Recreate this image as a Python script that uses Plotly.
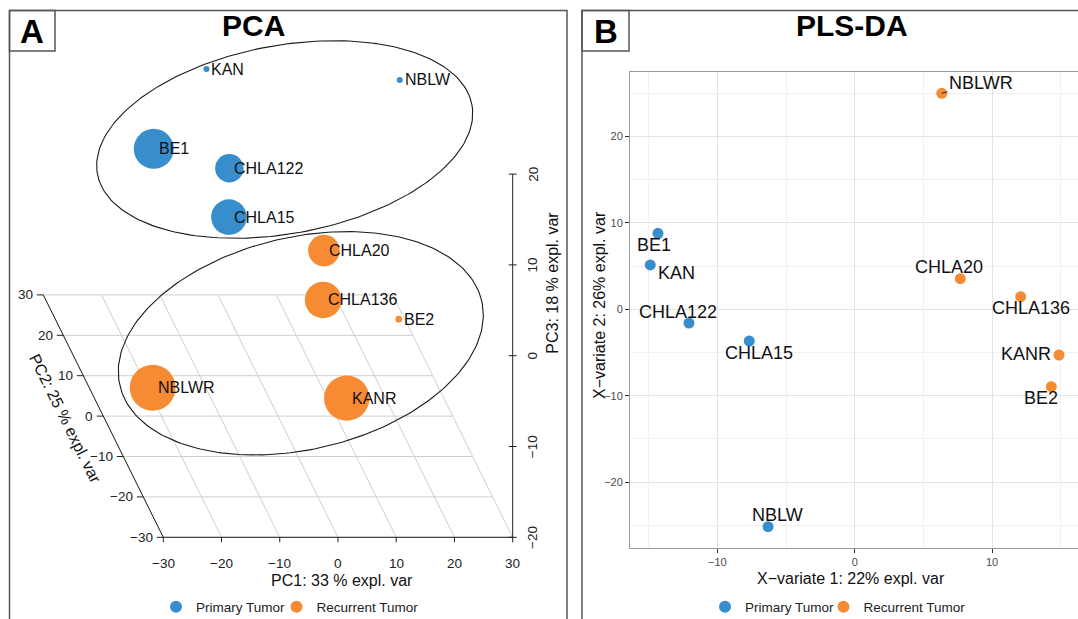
import numpy as np
import plotly.graph_objects as go

W, H = 1078, 619
FONT = "Liberation Sans, Arial, Helvetica, sans-serif"
BLUE, ORANGE = "#388ECC", "#F68B33"

# ---------------- data ----------------
samples = ["KAN", "NBLW", "BE1", "CHLA122", "CHLA15",
           "CHLA20", "CHLA136", "BE2", "NBLWR", "KANR"]
groups = ["Primary Tumor"] * 5 + ["Recurrent Tumor"] * 5
group_names = ["Primary Tumor", "Recurrent Tumor"]

# PCA scores (3 components)
pc1 = [-3.7, 29.5, -28.1, -9.9, -13.2, 4.9, 2.5, 29.0, -31.0, 2.6]
pc2 = [25.0, 25.0, -19.7, -4.5, -13.9, -8.7, -15.3, 24.0, -27.6, -26.8]
pc3 = [7.1, 5.9, 18.2, 9.3, 8.1, 2.1, -0.4, -20.0, -4.6, -6.1]

# PLS-DA variates
pls_x = [-14.89, -6.31, -14.33, -12.07, -7.68, 7.69, 12.09, 14.32, 6.34, 14.88]
pls_y = [5.13, -25.16, 8.80, -1.59, -3.67, 3.54, 1.46, -8.96, 25.0, -5.29]

pca_ticks_12 = [-30, -20, -10, 0, 10, 20, 30]
pca_ticks_3 = [-20, -10, 0, 10, 20]
pls_xticks = [-10, 0, 10]
pls_yticks = [-20, -10, 0, 10, 20]
pls_xminor = [-15, -5, 5, 15]
pls_yminor = [-25, -15, -5, 5, 15, 25]

pca_titles = ["PC1: 33 % expl. var", "PC2: 25 % expl. var", "PC3: 18 % expl. var"]
pls_titles = ["X\u2212variate 1: 22% expl. var", "X\u2212variate 2: 26% expl. var"]
colors = {"Primary Tumor": BLUE, "Recurrent Tumor": ORANGE}

# ---------------- styles / geometry ----------------
# oblique projection of the PCA box onto the page (pixel space of overlay axis)
P_ORIGIN = (163.3, 537.3)
P_SX, P_SZ = 5.823, 9.08
P_DEPTH = (-2.0, -4.04)
A1, A2, A3 = pca_ticks_12[0], pca_ticks_12[0], pca_ticks_3[0]
B1, B2, B3 = pca_ticks_12[-1], pca_ticks_12[-1], pca_ticks_3[-1]


def proj(a, b, c):
    a, b, c = (np.asarray(v, float) for v in (a, b, c))
    x = P_ORIGIN[0] + (a - A1) * P_SX + (b - A2) * P_DEPTH[0]
    y = P_ORIGIN[1] + (b - A2) * P_DEPTH[1] - (c - A3) * P_SZ
    return x, y


def depth_size(b):
    return 2 * (12.5 - 0.38 * np.asarray(b, float))


# confidence ellipses in projected page space: cx, cy, a, b, angle(deg)
ellipses = [(284.7, 139.5, 190.4, 94.1, 10.45), (300.8, 343.3, 185.8, 106.1, 13.2)]

# PLS-DA label offsets (pixels)
label_off_B = {"NBLWR": (39, -10.6), "BE1": (-4.3, 11.7), "KAN": (26, 8.3),
               "CHLA20": (-11.1, -11.4), "CHLA136": (10.5, 11.6),
               "CHLA122": (-11.2, -11.3), "CHLA15": (10.2, 11.7),
               "KANR": (-32.7, -0.7), "BE2": (-10.8, 11.6), "NBLW": (9.8, -11.7)}
segment_labels = {"NBLWR"}

# legend symbol centres (page px) per panel / group
legend_pos = {("A", "Primary Tumor"): 176, ("A", "Recurrent Tumor"): 296.5,
              ("B", "Primary Tumor"): 725, ("B", "Recurrent Tumor"): 843.5}
legend_ids = {("A", "Primary Tumor"): "legend", ("A", "Recurrent Tumor"): "legend2",
              ("B", "Primary Tumor"): "legend3", ("B", "Recurrent Tumor"): "legend4"}

fig = go.Figure()
ann = []
shapes = []

# ---------------- Panel A (PCA) ----------------
def add_lines(segs, color, width):
    xs, ys = [], []
    for (x0, y0), (x1, y1) in segs:
        xs += [float(x0), float(x1), None]
        ys += [float(y0), float(y1), None]
    fig.add_trace(go.Scatter(x=xs, y=ys, mode="lines", xaxis="x3", yaxis="y3",
                             line=dict(color=color, width=width),
                             hoverinfo="skip", showlegend=False))

grid = []
for b in pca_ticks_12:
    grid.append((proj(A1, b, A3), proj(B1, b, A3)))
for a in pca_ticks_12:
    grid.append((proj(a, A2, A3), proj(a, B2, A3)))
add_lines(grid, "#cfcfcf", 1)

axes = [(proj(A1, A2, A3), proj(B1, A2, A3)),
        (proj(A1, A2, A3), proj(A1, B2, A3)),
        (proj(B1, A2, A3), proj(B1, A2, B3))]
for a in pca_ticks_12:
    x, y = proj(a, A2, A3)
    axes.append(((x, y), (x, y + 5)))
for b in pca_ticks_12:
    x, y = proj(A1, b, A3)
    axes.append(((x - 6.5, y), (x, y)))
for c in pca_ticks_3:
    x, y = proj(B1, A2, c)
    axes.append(((x - 4, y), (x + 4, y)))
add_lines(axes, "#222222", 1)

tickfont = dict(family=FONT, size=13.5, color="#222")
for a in pca_ticks_12:
    x, y = proj(a, A2, A3)
    ann.append(dict(x=float(x), y=float(y) + 26, xref="x3", yref="y3", text=str(a).replace("-", "\u2212"),
                    showarrow=False, font=tickfont))
for b in pca_ticks_12:
    x, y = proj(A1, b, A3)
    ann.append(dict(x=float(x) - 8, y=float(y), xref="x3", yref="y3", text=str(b).replace("-", "\u2212"),
                    showarrow=False, xanchor="right", font=tickfont))
for c in pca_ticks_3:
    x, y = proj(B1, A2, c)
    ann.append(dict(x=float(x) + 20, y=float(y), xref="x3", yref="y3", text=str(c).replace("-", "\u2212"),
                    showarrow=False, textangle=-90, font=tickfont))

titlefont = dict(family=FONT, size=16, color="#111")
ann.append(dict(x=342.3, y=580, xref="x3", yref="y3", text=pca_titles[0], showarrow=False, font=titlefont))
ax0, ay0 = proj(A1, A2, A3)
ax1, ay1 = proj(A1, B2, A3)
ang = float(np.degrees(np.arctan2(ay0 - ay1, ax0 - ax1)))
ann.append(dict(x=65.5, y=418, xref="x3", yref="y3", text=pca_titles[1], showarrow=False,
                textangle=ang, font=titlefont))
ann.append(dict(x=551.7, y=283, xref="x3", yref="y3", text=pca_titles[2], showarrow=False,
                textangle=-90, font=titlefont))

t = np.linspace(0, 2 * np.pi, 240)
for cx, cy, ea, eb, th in ellipses:
    r = np.radians(th)
    ex = cx + ea * np.cos(t) * np.cos(r) - eb * np.sin(t) * np.sin(r)
    ey = cy - (ea * np.cos(t) * np.sin(r) + eb * np.sin(t) * np.cos(r))
    fig.add_trace(go.Scatter(x=ex, y=ey, mode="lines", xaxis="x3", yaxis="y3",
                             line=dict(color="#1a1a1a", width=1.1),
                             hoverinfo="skip", showlegend=False))

for g in group_names:
    idx = [i for i, gg in enumerate(groups) if gg == g]
    idx.sort(key=lambda i: -pc2[i])  # back to front
    px_, py_ = proj([pc1[i] for i in idx], [pc2[i] for i in idx], [pc3[i] for i in idx])
    fig.add_trace(go.Scatter(x=px_, y=py_, mode="markers", xaxis="x3", yaxis="y3",
                             name=g, legend=legend_ids[("A", g)],
                             marker=dict(color=colors[g], size=depth_size([pc2[i] for i in idx]),
                                         opacity=1, line=dict(width=0)),
                             text=[samples[i] for i in idx], hoverinfo="text"))

lblfont = dict(family=FONT, size=16, color="#111")
lx, ly = proj(pc1, pc2, pc3)
for i, s in enumerate(samples):
    ann.append(dict(x=float(lx[i]), y=float(ly[i]), xref="x3", yref="y3", text=s,
                    showarrow=False, xanchor="left", xshift=3, font=lblfont))

# ---------------- Panel B (PLS-DA) ----------------
for g in group_names:
    idx = [i for i, gg in enumerate(groups) if gg == g]
    fig.add_trace(go.Scatter(x=[pls_x[i] for i in idx], y=[pls_y[i] for i in idx],
                             mode="markers", xaxis="x", yaxis="y", name=g,
                             legend=legend_ids[("B", g)],
                             marker=dict(color=colors[g], size=11, line=dict(width=0)),
                             text=[samples[i] for i in idx], hoverinfo="text"))

lblfontB = dict(family=FONT, size=18, color="#111")
for i, s in enumerate(samples):
    dx, dy = label_off_B[s]
    ann.append(dict(x=pls_x[i], y=pls_y[i], xref="x", yref="y", text=s,
                    showarrow=True, ax=dx, ay=dy, arrowhead=0, arrowwidth=1,
                    standoff=0, startstandoff=0,
                    arrowcolor="#222" if s in segment_labels else "rgba(0,0,0,0)",
                    font=lblfontB))

ann.append(dict(x=851, y=578.3, xref="x3", yref="y3", text=pls_titles[0], showarrow=False, font=titlefont))
ann.append(dict(x=599, y=305, xref="x3", yref="y3", text=pls_titles[1], showarrow=False,
                textangle=-90, font=titlefont))

# ---------------- frames, panel letters, titles ----------------
frame = dict(color="#555", width=1.5)
for x0, x1 in [(9.5, 567), (582, 1090)]:
    shapes.append(dict(type="rect", xref="x3", yref="y3", x0=x0, x1=x1, y0=10.5, y1=640,
                       line=frame, layer="above"))
for x0, x1 in [(9.5, 55), (582, 629)]:
    shapes.append(dict(type="rect", xref="x3", yref="y3", x0=x0, x1=x1, y0=10.5, y1=51,
                       line=frame, layer="above"))
letterfont = dict(family=FONT, size=33, color="#000")
ann.append(dict(x=32.3, y=31.5, xref="x3", yref="y3", text="<b>A</b>", showarrow=False, font=letterfont))
ann.append(dict(x=605.5, y=31.5, xref="x3", yref="y3", text="<b>B</b>", showarrow=False, font=letterfont))
headfont = dict(family=FONT, size=30, color="#000")
ann.append(dict(x=253.3, y=25, xref="x3", yref="y3", text="<b>PCA</b>", showarrow=False, font=headfont))
ann.append(dict(x=851.7, y=25, xref="x3", yref="y3", text="<b>PLS-DA</b>", showarrow=False, font=headfont))

x_left_px, x_right_px = 630, W
y_top_px, y_bot_px = 71.7, 547.7
px_per_x = 13.73
px_per_y = 8.64
x0_px, y0_px = 854.7, 309.3

legfont = dict(family=FONT, size=13.5, color="#222")
legends = {}
for key, lid in legend_ids.items():
    legends[lid] = dict(orientation="h", x=(legend_pos[key] - 20) / W, y=1 - 607 / H,
                        xanchor="left", yanchor="middle", font=legfont,
                        itemsizing="constant", bgcolor="rgba(0,0,0,0)", borderwidth=0)

fig.update_layout(
    width=W, height=H,
    margin=dict(l=0, r=0, t=0, b=0, pad=0, autoexpand=False),
    paper_bgcolor="white", plot_bgcolor="rgba(0,0,0,0)",
    font=dict(family=FONT),
    xaxis=dict(domain=[x_left_px / W, 1],
               range=[(x_left_px - x0_px) / px_per_x, (x_right_px - x0_px) / px_per_x],
               tickvals=pls_xticks, ticks="outside", ticklen=4, tickcolor="#333",
               tickfont=dict(family=FONT, size=11, color="#4d4d4d"),
               showgrid=True, gridcolor="#e3e3e3", gridwidth=1, zeroline=False,
               showline=True, linecolor="#9a9a9a", linewidth=1, mirror=True,
               minor=dict(tickvals=pls_xminor, showgrid=True, gridcolor="#f1f1f1", gridwidth=0.7),
               anchor="y", fixedrange=True),
    yaxis=dict(domain=[1 - y_bot_px / H, 1 - y_top_px / H],
               range=[(y0_px - y_bot_px) / px_per_y, (y0_px - y_top_px) / px_per_y],
               tickvals=pls_yticks, ticks="outside", ticklen=4, tickcolor="#333",
               tickfont=dict(family=FONT, size=11, color="#4d4d4d"),
               showgrid=True, gridcolor="#e3e3e3", gridwidth=1, zeroline=False,
               showline=True, linecolor="#9a9a9a", linewidth=1, mirror=False,
               minor=dict(tickvals=pls_yminor, showgrid=True, gridcolor="#f1f1f1", gridwidth=0.7),
               anchor="x", fixedrange=True),
    xaxis3=dict(domain=[0, 1], range=[0, W], visible=False, fixedrange=True, anchor="y3"),
    yaxis3=dict(domain=[0, 1], range=[H, 0], visible=False, fixedrange=True, anchor="x3"),
    annotations=ann, shapes=shapes,
    **legends,
)

fig.write_html("out.html", config={"displayModeBar": False},
               post_script="document.body.style.margin='0';document.body.style.overflow='hidden';")
